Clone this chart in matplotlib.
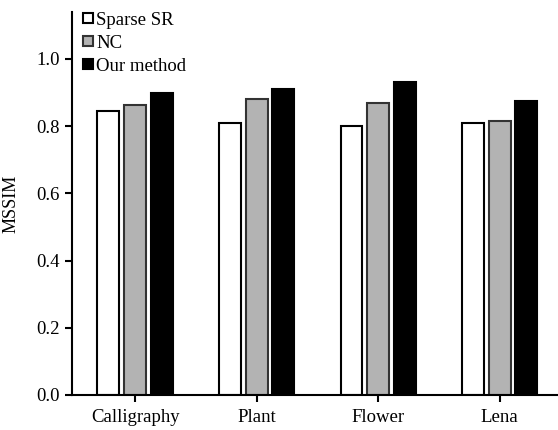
import numpy as np
import matplotlib
matplotlib.use('Agg')
import matplotlib.pyplot as plt

plt.rcParams['font.family'] = ['Liberation Serif', 'DejaVu Serif']

categories = ['Calligraphy', 'Plant', 'Flower', 'Lena']
sparse_sr = [0.846, 0.809, 0.801, 0.809]
nc = [0.864, 0.882, 0.868, 0.816]
ours = [0.898, 0.910, 0.930, 0.876]
series_names = ['Sparse SR', 'NC', 'Our method']

fig = plt.figure(figsize=(5.58, 4.30), dpi=100)
ax = fig.add_axes([0.129, 0.0814, 0.871, 0.891])

x = np.arange(len(categories))
w = 0.18
step = 0.22
ax.bar(x - step, sparse_sr, w, color='white', edgecolor='black', linewidth=1.5, label=series_names[0])
ax.bar(x, nc, w, color='#b3b3b3', edgecolor='#333333', linewidth=1.5, label=series_names[1])
ax.bar(x + step, ours, w, color='black', edgecolor='black', linewidth=1.5, label=series_names[2])

ax.set_xlim(-0.52, 3.48)
ax.set_ylim(0, 1.14)
ax.set_yticks([0.0, 0.2, 0.4, 0.6, 0.8, 1.0])
ax.set_yticklabels(['0.0', '0.2', '0.4', '0.6', '0.8', '1.0'])
ax.set_xticks(x)
ax.set_xticklabels(categories)
ax.set_ylabel('MSSIM', fontsize=13, labelpad=12)

for s in ['top', 'right']:
    ax.spines[s].set_visible(False)
for s in ['left', 'bottom']:
    ax.spines[s].set_linewidth(1.5)
ax.tick_params(direction='out', length=5, width=1.5, labelsize=13.5, pad=4)
ax.tick_params(axis='x', pad=5)

ax.legend(loc='upper left', bbox_to_anchor=(0.008, 1.02), frameon=False,
          handlelength=0.5, handleheight=0.5, handletextpad=0.2,
          labelspacing=0.32, fontsize=13.5, borderaxespad=0)

fig.savefig('out.png', dpi=100)
